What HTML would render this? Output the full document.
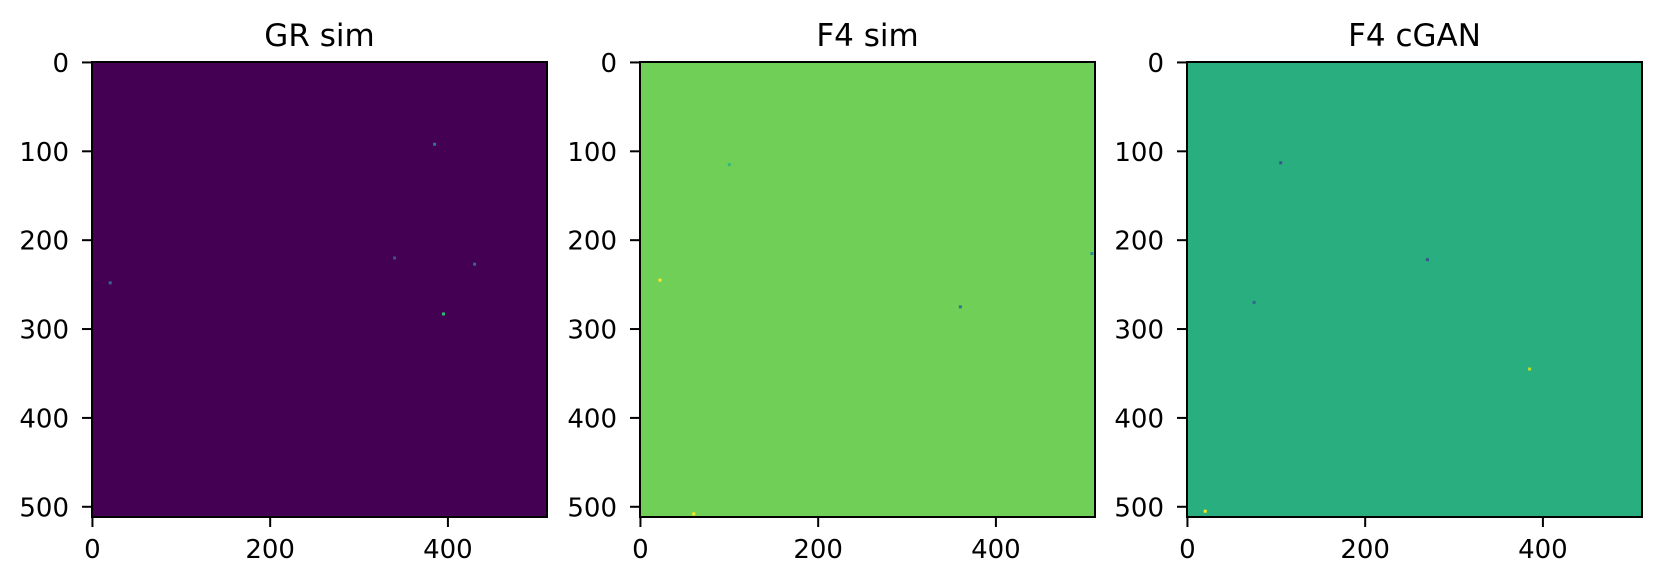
<!DOCTYPE html>
<html><head><meta charset="utf-8"><style>
html,body{margin:0;padding:0;background:#fff;}
svg{display:block;font-family:"DejaVu Sans","Liberation Sans",sans-serif;}
</style></head><body>
<svg id="fig" width="1662" height="585" viewBox="0 0 1662 585" xmlns="http://www.w3.org/2000/svg"></svg>
<script>
const panelTitles = ["GR sim", "F4 sim", "F4 cGAN"];
const panelColors = ["#440154", "#70cf57", "#29af7f"];
const xTicks = [0, 200, 400];
const yTicks = [0, 100, 200, 300, 400, 500];
const extent = 512;
// sparse speckles [x, y] in data units per panel
const speckles = [
  [[385, 92, "#2a788e"], [395, 283, "#35b779"], [20, 248, "#31688e"], [340, 220, "#3b528b"], [430, 227, "#31688e"]],
  [[508, 215, "#21918c"], [22, 245, "#fde725"], [360, 275, "#2a788e"], [60, 508, "#fde725"], [100, 115, "#35b779"]],
  [[105, 113, "#3b528b"], [75, 270, "#31688e"], [385, 345, "#b5de2b"], [270, 222, "#3b528b"], [20, 505, "#fde725"]]
];
const panelLeft = [92, 640, 1187];
const top0 = 62, size = 455;
const NS = "http://www.w3.org/2000/svg";
const svg = document.getElementById("fig");
function mk(tag, attrs, parent){const e=document.createElementNS(NS,tag);for(const k in attrs)e.setAttribute(k,attrs[k]);(parent||svg).appendChild(e);return e;}
panelTitles.forEach((t,i)=>{
  const L = panelLeft[i];
  const sx = v => L + (v + 0.5) / extent * size;
  const sy = v => top0 + (v + 0.5) / extent * size;
  const g = mk("g",{});
  
  
  const img = mk("rect",{x:L,y:top0,width:size,height:size,fill:panelColors[i]},g);
  
  
  speckles[i].forEach(s=>{
    const r = mk("rect",{x:sx(s[0])-1.5,y:sy(s[1])-1.5,width:3,height:3,fill:s[2]},g);
    
    
  });
  const fr = mk("rect",{x:L,y:top0,width:size,height:size,fill:"none",stroke:"#000","stroke-width":2},g);
  
  
  const title = mk("text",{x:L+size/2,y:46,"font-size":31,"text-anchor":"middle",fill:"#000"},g);
  title.textContent = t;
  
  
  xTicks.forEach(v=>{
    const x = sx(v);
    const tk = mk("line",{x1:x,y1:top0+size,x2:x,y2:top0+size+10,stroke:"#000","stroke-width":2},g);
    
    
    const lb = mk("text",{x:x,y:558,"font-size":26,"text-anchor":"middle",fill:"#000"},g);
    lb.textContent = v;
    
    
  });
  yTicks.forEach(v=>{
    const y = sy(v);
    const tk = mk("line",{x1:L-10,y1:y,x2:L,y2:y,stroke:"#000","stroke-width":2},g);
    
    
    const lb = mk("text",{x:L-23,y:y+9.5,"font-size":26,"text-anchor":"end",fill:"#000"},g);
    lb.textContent = v;
    
    
  });
});
</script>
</body></html>
